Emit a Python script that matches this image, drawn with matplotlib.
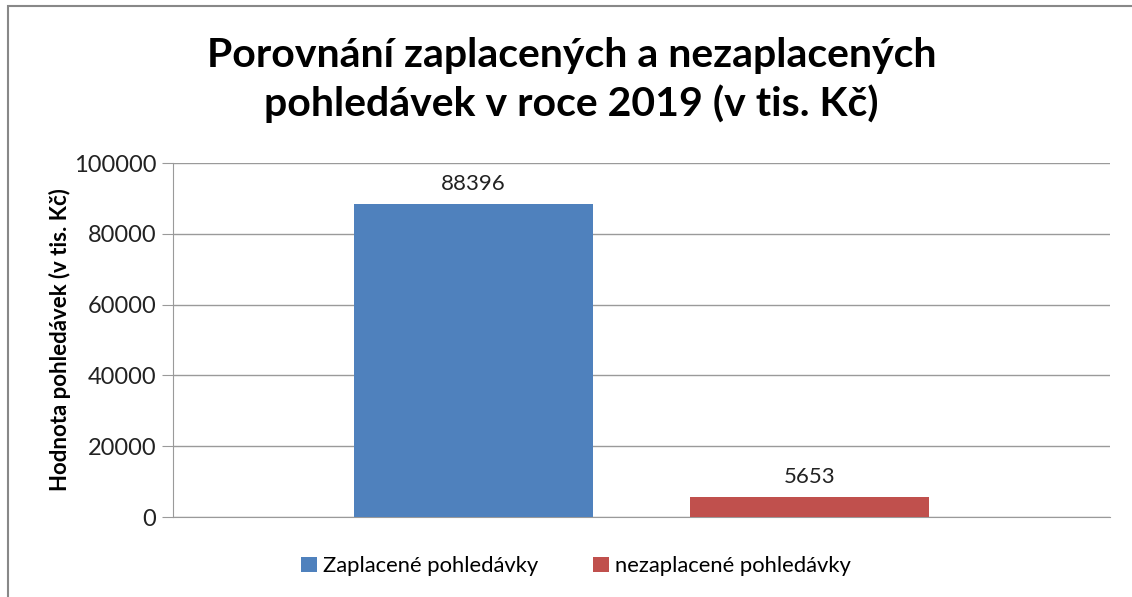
import matplotlib.pyplot as plt
from matplotlib.patches import Rectangle

plt.rcParams['font.family'] = ['Lato', 'DejaVu Sans']

# data
series = ['Zaplacené pohledávky', 'nezaplacené pohledávky']
values = [88396, 5653]
colors = ['#4f81bd', '#c0504d']
yticks = [0, 20000, 40000, 60000, 80000, 100000]

fig = plt.figure(figsize=(11.32, 5.97), dpi=100)
ax = fig.add_axes([173/1132, 1-517/597, (1110-173)/1132, (517-163)/597])

# one category, two clustered series
bar_w = 0.255
offsets = [0.3205, 0.679]
for i in range(len(series)):
    b = ax.bar(offsets[i], values[i], width=bar_w, color=colors[i], label=series[i], zorder=3)
    ax.bar_label(b, labels=[str(values[i])], padding=7, fontsize=16, color='#222222')

ax.set_xlim(0, 1)
ax.set_ylim(0, 100000)
ax.set_yticks(yticks)
ax.set_yticklabels([str(v) for v in yticks], fontsize=17, color='#222222')
ax.set_xticks([])
ax.grid(axis='y', color='#9a9a9a', linewidth=1, zorder=0)
for s in ['top', 'right']:
    ax.spines[s].set_visible(False)
ax.spines['left'].set_color('#9a9a9a')
ax.spines['bottom'].set_color('#9a9a9a')
ax.tick_params(axis='y', length=8, color='#9a9a9a', pad=4)

ax.set_ylabel('Hodnota pohledávek (v tis. Kč)', fontsize=16, fontweight='bold', labelpad=2)

fig.text(0.505, 0.866, 'Porovnání zaplacených a nezaplacených\npohledávek v roce 2019 (v tis. Kč)',
         ha='center', va='center', fontsize=29.5, fontweight='bold', linespacing=1.3)

fig.legend(loc='center', bbox_to_anchor=(0.509, 1-566/597), ncol=2, frameon=False,
           fontsize=15.8, handlelength=0.7, handleheight=0.7, columnspacing=2.5, handletextpad=0.3)

# chart frame
fig.patches.append(Rectangle((8/1132, -0.05), 1.1, 1-6/597+0.05, transform=fig.transFigure,
                             fill=False, edgecolor='#888888', linewidth=1.5))

fig.savefig('out.png', dpi=100)
